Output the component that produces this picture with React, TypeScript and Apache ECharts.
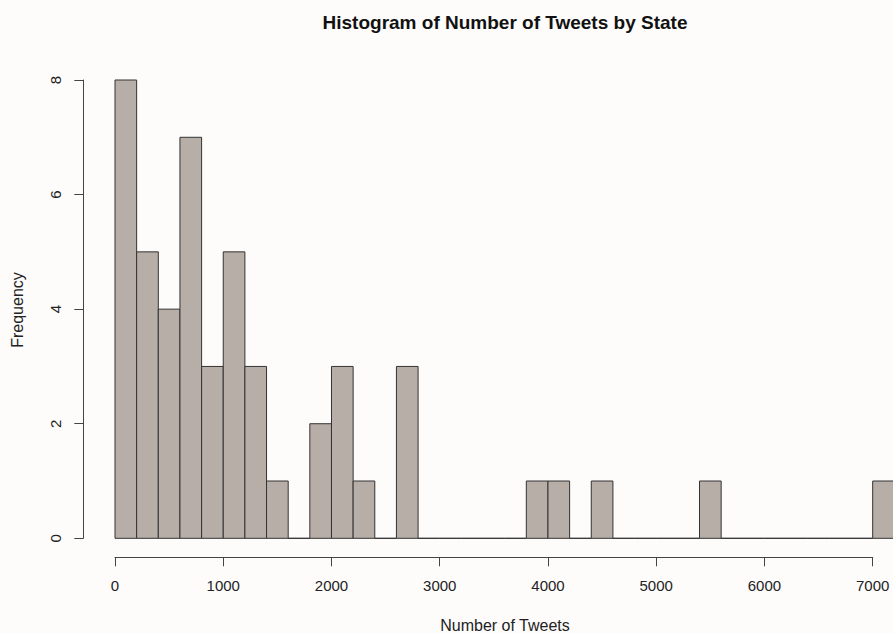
import React, { useEffect, useRef } from "react";
import * as echarts from "echarts";

// Histogram bins: width 200 tweets, starting at 0
const binWidth = 200;
const binStarts = Array.from({ length: 36 }, (_, i) => i * binWidth);
const counts = [
  8, 5, 4, 7, 3, 5, 3, 1, 0, 2, 3, 1, 0, 3, 0, 0, 0, 0, 0, 1, 1, 0, 1, 0, 0, 0,
  0, 1, 0, 0, 0, 0, 0, 0, 0, 1,
];
const xTicks = [0, 1000, 2000, 3000, 4000, 5000, 6000, 7000];
const yTicks = [0, 2, 4, 6, 8];

const titleText = "Histogram of Number of Tweets by State";
const xName = "Number of Tweets";
const yName = "Frequency";

const FONT = "'Liberation Sans', Arial, Helvetica, sans-serif";
const INK = "#222222";
const AXIS = "#444444";

export default function App() {
  const ref = useRef<HTMLDivElement>(null);

  useEffect(() => {
    if (!ref.current) return;
    const chart = echarts.init(ref.current, undefined, { renderer: "svg" });

    const data = binStarts.map((s, i) => [s, s + binWidth, counts[i]]);

    chart.setOption({
      animation: false,
      backgroundColor: "#fdfcfb",
      textStyle: { fontFamily: FONT },
      grid: { left: 115, right: 20.3, top: 80, bottom: 94.7 },
      xAxis: {
        type: "value",
        min: xTicks[0],
        max: xTicks[xTicks.length - 1],
        interval: 1000,
        offset: 19,
        axisLine: { show: true, onZero: false, lineStyle: { color: AXIS, width: 1 } },
        axisTick: { show: true, length: 9, lineStyle: { color: AXIS } },
        axisLabel: {
          margin: 21,
          fontSize: 15,
          color: INK,
          fontFamily: FONT,
          formatter: (v: number) => String(v),
        },
        splitLine: { show: false },
      },
      yAxis: {
        type: "value",
        min: yTicks[0],
        max: yTicks[yTicks.length - 1],
        interval: 2,
        offset: 31.7,
        axisLine: { show: true, onZero: false, lineStyle: { color: AXIS, width: 1 } },
        axisTick: { show: true, length: 9, lineStyle: { color: AXIS } },
        axisLabel: {
          rotate: 90,
          margin: 20,
          fontSize: 15,
          color: INK,
          fontFamily: FONT,
        },
        splitLine: { show: false },
      },
      graphic: [
        {
          type: "text",
          x: 505,
          y: 22,
          style: {
            text: titleText,
            font: `bold 19px ${FONT}`,
            fill: "#111111",
            textAlign: "center",
            textVerticalAlign: "middle",
          },
        },
        {
          type: "text",
          x: 505,
          y: 625,
          style: {
            text: xName,
            font: `16px ${FONT}`,
            fill: INK,
            textAlign: "center",
            textVerticalAlign: "middle",
          },
        },
        {
          type: "text",
          x: 17,
          y: 310,
          rotation: Math.PI / 2,
          style: {
            text: yName,
            font: `16px ${FONT}`,
            fill: INK,
            textAlign: "center",
            textVerticalAlign: "middle",
          },
        },
      ],
      series: [
        {
          type: "custom",
          clip: false,
          encode: { x: [0, 1], y: 2 },
          data,
          renderItem: (params: any, api: any) => {
            const x0 = api.value(0);
            const x1 = api.value(1);
            const c = api.value(2);
            const topLeft = api.coord([x0, c]);
            const bottomRight = api.coord([x1, 0]);
            return {
              type: "rect",
              shape: {
                x: topLeft[0],
                y: topLeft[1],
                width: bottomRight[0] - topLeft[0],
                height: bottomRight[1] - topLeft[1],
              },
              style: { fill: "#b8aea8", stroke: "#333333", lineWidth: 1 },
            };
          },
        },
      ],
    });

    return () => chart.dispose();
  }, []);

  return (
    <div
      ref={ref}
      style={{ position: "absolute", left: 0, top: 0, width: 893, height: 633 }}
    />
  );
}
